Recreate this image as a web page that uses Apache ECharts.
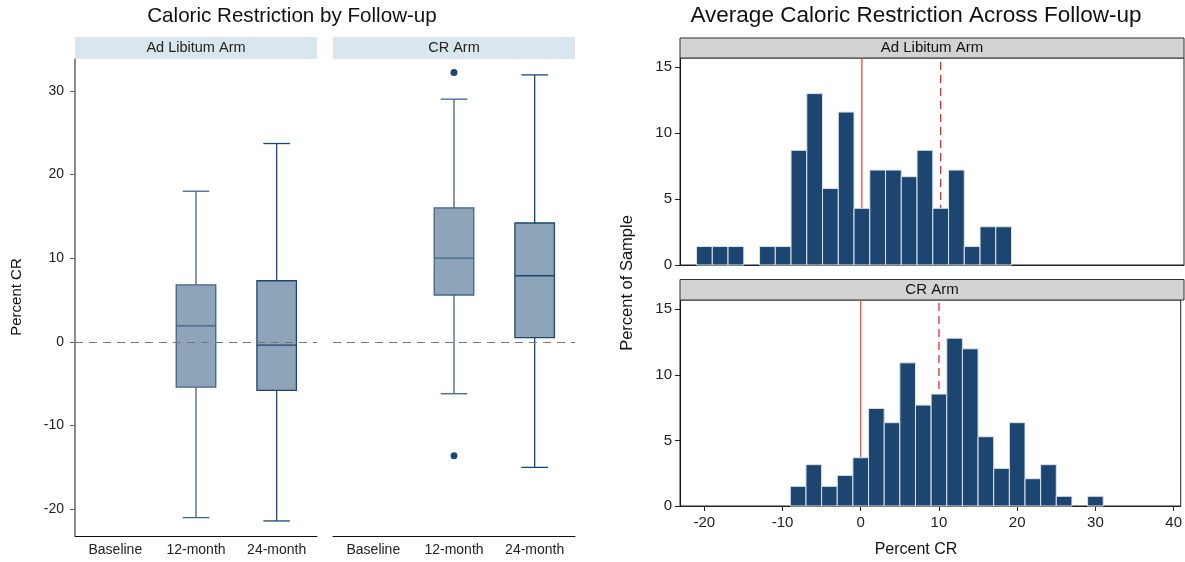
<!DOCTYPE html>
<html>
<head>
<meta charset="utf-8">
<script src="https://cdn.jsdelivr.net/npm/echarts@6/dist/echarts.min.js"></script>
<style>
  html, body { margin: 0; padding: 0; background: #fff; }
  #chart { width: 1185px; height: 562px; }
</style>
</head>
<body>
<div id="chart"></div>
<script>
// ---------- DATA ----------
const boxCategories = ['Baseline', '12-month', '24-month'];
// [categoryIndex, lowerWhisker, Q1, median, Q3, upperWhisker]
const adLibBox = [
  [1, -21.0, -5.4, 1.9, 6.8, 18.0],
  [2, -21.4, -5.8, -0.4, 7.3, 23.7]
];
const crBox = [
  [1, -6.2, 5.6, 10.0, 16.0, 29.0],
  [2, -15.0, 0.5, 7.9, 14.2, 31.9]
];
const crOutliers = [['12-month', 32.2], ['12-month', -13.6]];
const boxYTicks = [-20, -10, 0, 10, 20, 30];

const adLibBinCenters = [-20, -18, -16, -12, -10, -8, -6, -4, -2, 0, 2, 4, 6, 8, 10, 12, 14, 16, 18];
const adLibPercent    = [1.4, 1.4, 1.4, 1.4, 1.4, 8.7, 13.0, 5.8, 11.6, 4.3, 7.2, 7.2, 6.7, 8.7, 4.3, 7.2, 1.4, 2.9, 2.9];
const crBinCenters = [-8, -6, -4, -2, 0, 2, 4, 6, 8, 10, 12, 14, 16, 18, 20, 22, 24, 26, 30];
const crPercent    = [1.5, 3.15, 1.5, 2.33, 3.68, 7.44, 6.35, 10.91, 7.69, 8.53, 12.79, 11.98, 5.28, 2.87, 6.35, 2.08, 3.15, 0.74, 0.74];
const binWidth = 2;
const histXTicks = [-20, -10, 0, 10, 20, 30, 40];
const histYTicks = [0, 5, 10, 15];
const refLineSolid = 0;
const refLineDashed = 10;

// ---------- STYLE ----------
const FONT = 'Liberation Sans';
const BOX_FILL = '#8ea4b9';
const BOX_STROKES = ['#3f6489', '#1b4672'];
const BAR_FILL = '#1c4670';
const HIST_YMAX = 15.7;

function renderBox(params, api) {
  const c = api.value(0);
  const lo = api.value(1), q1 = api.value(2), med = api.value(3), q3 = api.value(4), hi = api.value(5);
  const cw = api.size([1, 0])[0];
  const x = api.coord([c, med])[0];
  const yLo = api.coord([c, lo])[1];
  const yQ1 = api.coord([c, q1])[1];
  const yMed = api.coord([c, med])[1];
  const yQ3 = api.coord([c, q3])[1];
  const yHi = api.coord([c, hi])[1];
  const bh = cw * 0.245, ch = cw * 0.165;
  const stroke = BOX_STROKES[params.dataIndex % 2];
  const ls = { stroke: stroke, lineWidth: 1.3, fill: null };
  return {
    type: 'group',
    children: [
      { type: 'line', shape: { x1: x, y1: yQ3, x2: x, y2: yHi }, style: ls },
      { type: 'line', shape: { x1: x, y1: yQ1, x2: x, y2: yLo }, style: ls },
      { type: 'line', shape: { x1: x - ch, y1: yHi, x2: x + ch, y2: yHi }, style: ls },
      { type: 'line', shape: { x1: x - ch, y1: yLo, x2: x + ch, y2: yLo }, style: ls },
      { type: 'rect', shape: { x: x - bh, y: yQ3, width: 2 * bh, height: yQ1 - yQ3 },
        style: { fill: BOX_FILL, stroke: stroke, lineWidth: 1.3 } },
      { type: 'line', shape: { x1: x - bh, y1: yMed, x2: x + bh, y2: yMed }, style: ls }
    ]
  };
}

function renderHist(params, api) {
  const xc = api.value(0), v = api.value(1);
  const p1 = api.coord([xc - binWidth / 2, v]);
  const p2 = api.coord([xc + binWidth / 2, 0]);
  return {
    type: 'rect',
    shape: { x: p1[0], y: p1[1], width: p2[0] - p1[0], height: p2[1] - p1[1] },
    style: { fill: BAR_FILL, stroke: '#dde3ea', lineWidth: 1 }
  };
}

const boxYAxis = (show) => ({
  type: 'value', min: -23.2, max: 33.8, show: show,
  axisLine: { show: true, onZero: false, lineStyle: { color: '#666', width: 1.5 } },
  axisTick: { show: true, customValues: boxYTicks, length: 5, lineStyle: { color: '#666' } },
  axisLabel: { customValues: boxYTicks, fontFamily: FONT, fontSize: 14, color: '#222', margin: 11 },
  splitLine: { show: false }
});
const boxXAxis = (gi) => ({
  type: 'category', gridIndex: gi, data: boxCategories, boundaryGap: true,
  axisLine: { show: true, onZero: false, lineStyle: { color: '#111', width: 1 } },
  axisTick: { show: false },
  axisLabel: { fontFamily: FONT, fontSize: 14, color: '#222', margin: 7 },
  splitLine: { show: false }
});
const histXAxis = (gi, labels) => ({
  type: 'value', gridIndex: gi, min: -23.1, max: 40.9,
  axisLine: { show: true, onZero: false, lineStyle: { color: '#222', width: 1 } },
  axisTick: { show: labels, customValues: histXTicks, length: 5, lineStyle: { color: '#222' } },
  axisLabel: { show: labels, customValues: histXTicks, fontFamily: FONT, fontSize: 15, color: '#222', margin: 9 },
  splitLine: { show: false }
});
const histYAxis = (gi) => ({
  type: 'value', gridIndex: gi, min: 0, max: HIST_YMAX,
  axisLine: { show: true, onZero: false, lineStyle: { color: '#111', width: 1 } },
  axisTick: { show: true, customValues: histYTicks, length: 5, lineStyle: { color: '#222' } },
  axisLabel: { customValues: histYTicks, fontFamily: FONT, fontSize: 15, color: '#222', margin: 8 },
  splitLine: { show: false }
});

const zeroMark = {
  silent: true, symbol: 'none', label: { show: false },
  lineStyle: { color: '#777', type: [8, 6], width: 1 },
  data: [{ yAxis: 0 }]
};

function refLine(xi, yi, xv, dashed) {
  return {
    type: 'line', xAxisIndex: xi, yAxisIndex: yi, z: 1, silent: true,
    showSymbol: false, symbol: 'none',
    data: [[xv, 0], [xv, HIST_YMAX]],
    lineStyle: { color: dashed ? '#e8272b' : '#f24a4a', width: 1.3, type: dashed ? [8, 5] : 'solid' }
  };
}

const chart = echarts.init(document.getElementById('chart'), null, { renderer: 'canvas' });
chart.setOption({
  animation: false,
  backgroundColor: '#fff',
  grid: [
    { left: 75, top: 59, width: 242, height: 477 },
    { left: 333, top: 59, width: 242, height: 477 },
    { left: 680, top: 58, width: 504, height: 207, show: true, borderColor: '#222', borderWidth: 1 },
    { left: 680, top: 300, width: 504, height: 206, show: true, borderColor: '#222', borderWidth: 1 }
  ],
  xAxis: [boxXAxis(0), boxXAxis(1), histXAxis(2, false), histXAxis(3, true)],
  yAxis: [
    Object.assign(boxYAxis(true), { gridIndex: 0 }),
    Object.assign(boxYAxis(false), { gridIndex: 1 }),
    histYAxis(2), histYAxis(3)
  ],
  series: [
    { type: 'custom', name: 'Ad Libitum Arm', xAxisIndex: 0, yAxisIndex: 0, renderItem: renderBox,
      encode: { x: 0, y: [1, 2, 3, 4, 5] }, data: adLibBox, z: 3, markLine: zeroMark },
    { type: 'custom', name: 'CR Arm', xAxisIndex: 1, yAxisIndex: 1, renderItem: renderBox,
      encode: { x: 0, y: [1, 2, 3, 4, 5] }, data: crBox, z: 3, markLine: zeroMark },
    { type: 'scatter', xAxisIndex: 1, yAxisIndex: 1, data: crOutliers, symbolSize: 7,
      itemStyle: { color: '#1c4670', opacity: 1 }, z: 4 },
    refLine(2, 2, refLineSolid, false), refLine(2, 2, refLineDashed, true),
    refLine(3, 3, refLineSolid, false), refLine(3, 3, refLineDashed, true),
    { type: 'custom', xAxisIndex: 2, yAxisIndex: 2, renderItem: renderHist, z: 3,
      encode: { x: 0, y: 1 }, data: adLibBinCenters.map((c, i) => [c, adLibPercent[i]]) },
    { type: 'custom', xAxisIndex: 3, yAxisIndex: 3, renderItem: renderHist, z: 3,
      encode: { x: 0, y: 1 }, data: crBinCenters.map((c, i) => [c, crPercent[i]]) }
  ],
  graphic: [
    { type: 'text', x: 292, y: 16, style: { text: 'Caloric Restriction by Follow-up', font: '20.6px "Liberation Sans"', fill: '#111', align: 'center', verticalAlign: 'middle' } },
    { type: 'text', x: 916, y: 16, style: { text: 'Average Caloric Restriction Across Follow-up', font: '22.5px "Liberation Sans"', fill: '#111', align: 'center', verticalAlign: 'middle' } },
    // left strips
    { type: 'rect', shape: { x: 75, y: 37, width: 242, height: 22 }, style: { fill: '#d9e6ed' }, z: 1 },
    { type: 'rect', shape: { x: 333, y: 37, width: 242, height: 22 }, style: { fill: '#d9e6ed' }, z: 1 },
    { type: 'text', x: 196, y: 48, style: { text: 'Ad Libitum Arm', font: '14.5px "Liberation Sans"', fill: '#222', align: 'center', verticalAlign: 'middle' }, z: 2 },
    { type: 'text', x: 454, y: 48, style: { text: 'CR Arm', font: '14.5px "Liberation Sans"', fill: '#222', align: 'center', verticalAlign: 'middle' }, z: 2 },
    // right strips
    { type: 'rect', shape: { x: 680, y: 38, width: 504, height: 20 }, style: { fill: '#d3d3d3', stroke: '#333', lineWidth: 1 }, z: 1 },
    { type: 'rect', shape: { x: 680, y: 279.5, width: 504, height: 20.5 }, style: { fill: '#d3d3d3', stroke: '#333', lineWidth: 1 }, z: 1 },
    { type: 'text', x: 932, y: 48, style: { text: 'Ad Libitum Arm', font: '15px "Liberation Sans"', fill: '#111', align: 'center', verticalAlign: 'middle' }, z: 2 },
    { type: 'text', x: 932, y: 290, style: { text: 'CR Arm', font: '15px "Liberation Sans"', fill: '#111', align: 'center', verticalAlign: 'middle' }, z: 2 },
    // axis names
    { type: 'text', x: 17, y: 297, rotation: Math.PI / 2, style: { text: 'Percent CR', font: '15px "Liberation Sans"', fill: '#111', align: 'center', verticalAlign: 'middle' } },
    { type: 'text', x: 627, y: 283, rotation: Math.PI / 2, style: { text: 'Percent of Sample', font: '16.5px "Liberation Sans"', fill: '#111', align: 'center', verticalAlign: 'middle' } },
    { type: 'text', x: 916, y: 550, style: { text: 'Percent CR', font: '16px "Liberation Sans"', fill: '#111', align: 'center', verticalAlign: 'middle' } }
  ]
});
</script>
</body>
</html>
